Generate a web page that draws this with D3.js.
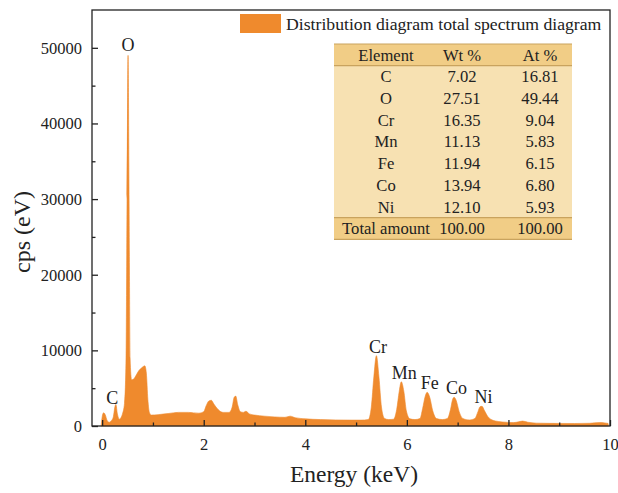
<!DOCTYPE html>
<html>
<head>
<meta charset="utf-8">
<script src="https://cdn.jsdelivr.net/npm/d3@7/dist/d3.min.js"></script>
<style>
  html, body { margin: 0; padding: 0; background: #fff; }
  text { font-family: "Liberation Serif", "Times New Roman", serif; fill: #222; }
</style>
</head>
<body>
<svg id="chart" width="618" height="493"></svg>
<script>
// ---- Data ----
const energy = [-0.02, 0.00, 0.03, 0.06, 0.10, 0.14, 0.18, 0.22, 0.25, 0.27, 0.30, 0.34, 0.37, 0.40, 0.44, 0.47, 0.49, 0.51, 0.53, 0.55, 0.58,
  0.62, 0.66, 0.72, 0.78, 0.84, 0.87, 0.90, 0.93, 0.97, 1.10, 1.30, 1.50, 1.70, 1.90, 2.00, 2.05, 2.10, 2.15, 2.20, 2.28, 2.38, 2.50,
  2.56, 2.60, 2.63, 2.67, 2.72, 2.78, 2.83, 2.90, 3.00, 3.20, 3.40, 3.60, 3.70, 3.80, 4.00, 4.30, 4.60, 4.90, 5.10, 5.24, 5.30, 5.35,
  5.40, 5.45, 5.50, 5.56, 5.64, 5.74, 5.80, 5.85, 5.89, 5.94, 5.99, 6.06, 6.16, 6.26, 6.31, 6.36, 6.40, 6.45, 6.51, 6.58, 6.70, 6.80,
  6.86, 6.90, 6.93, 6.97, 7.03, 7.10, 7.23, 7.34, 7.40, 7.44, 7.48, 7.53, 7.60, 7.68, 7.80, 7.95, 8.10, 8.20, 8.28, 8.38, 8.55, 8.80,
  9.00, 9.30, 9.60, 9.80, 9.90, 9.96, 9.97];
const cps = [0, 1200, 1750, 1500, 700, 500, 700, 1200, 2500, 2850, 1600, 900, 1100, 1600, 3000, 9000, 30000, 49000, 30000, 9000, 6100,
  6200, 6600, 7300, 7700, 7950, 7000, 3500, 1800, 1450, 1500, 1650, 1800, 1800, 1700, 1900, 2700, 3300, 3400, 2900, 2200, 1800, 1800,
  2500, 3800, 3950, 2800, 1900, 1800, 1950, 1600, 1450, 1300, 1200, 1150, 1300, 1100, 950, 850, 800, 780, 780, 850, 2500, 6500,
  9300, 6500, 2500, 1000, 850, 900, 2200, 4600, 5850, 4600, 2000, 950, 850, 1000, 2300, 3900, 4450, 3800, 2000, 1000, 850, 1000,
  2200, 3500, 3800, 3400, 1900, 1000, 800, 1000, 1900, 2550, 2600, 2000, 1200, 800, 600, 500, 450, 550, 650, 500, 380, 350,
  340, 330, 360, 450, 400, 350, 0];

const peakLabels = ["C", "O", "Cr", "Mn", "Fe", "Co", "Ni"];
const peakEnergy = [0.20, 0.51, 5.43, 5.95, 6.45, 6.98, 7.51];
const peakCps = [2850, 49000, 9300, 5850, 4450, 3800, 2600];

const tableHeader = ["Element", "Wt %", "At %"];
const tableElements = ["C", "O", "Cr", "Mn", "Fe", "Co", "Ni", "Total amount"];
const tableWt = ["7.02", "27.51", "16.35", "11.13", "11.94", "13.94", "12.10", "100.00"];
const tableAt = ["16.81", "49.44", "9.04", "5.83", "6.15", "6.80", "5.93", "100.00"];

const xTicks = [0, 2, 4, 6, 8, 10];
const xMinor = [1, 3, 5, 7, 9];
const yTicks = [0, 10000, 20000, 30000, 40000, 50000];
const yMinor = [5000, 15000, 25000, 35000, 45000];

const legendLabel = "Distribution diagram total spectrum diagram";
const xTitle = "Energy (keV)";
const yTitle = "cps (eV)";

// ---- Layout ----
const svg = d3.select("#chart");
const L = 92, R = 610, T = 10, B = 426;
const orange = "#EF8A2D";

const x = d3.scaleLinear().domain([-0.2, 10]).range([L, R]);
const y = d3.scaleLinear().domain([0, 55000]).range([B, T]);

const pts = energy.map((e, i) => [e, cps[i]]);

// spectrum area
const area = d3.area().x(d => x(d[0])).y0(y(0)).y1(d => y(d[1])).curve(d3.curveMonotoneX);
svg.append("path").datum(pts).attr("d", area).attr("fill", orange).attr("stroke", orange).attr("stroke-width", 0.6);

// frame
svg.append("rect").attr("x", L).attr("y", T).attr("width", R - L).attr("height", B - T)
  .attr("fill", "none").attr("stroke", "#222").attr("stroke-width", 1.3);

// x axis
const xAxis = d3.axisBottom(x).tickValues(xTicks).tickSizeInner(-6).tickSizeOuter(0).tickPadding(12).tickFormat(d3.format("d"));
const gx = svg.append("g").attr("transform", `translate(0,${B})`).call(xAxis);
gx.select(".domain").remove();
gx.selectAll("line").attr("stroke", "#222").attr("stroke-width", 1.3);
gx.selectAll("text").attr("font-size", 16.5).attr("fill", "#222").attr("font-family", "Liberation Serif");
const xAxisMinor = d3.axisBottom(x).tickValues(xMinor).tickSizeInner(-3.5).tickSizeOuter(0).tickFormat("");
const gxm = svg.append("g").attr("transform", `translate(0,${B})`).call(xAxisMinor);
gxm.select(".domain").remove();
gxm.selectAll("line").attr("stroke", "#222").attr("stroke-width", 1.3);

// y axis
const yAxis = d3.axisLeft(y).tickValues(yTicks).tickSizeInner(-6).tickSizeOuter(0).tickPadding(10).tickFormat(d3.format("d"));
const gy = svg.append("g").attr("transform", `translate(${L},0)`).call(yAxis);
gy.select(".domain").remove();
gy.selectAll("line").attr("stroke", "#222").attr("stroke-width", 1.3);
gy.selectAll("text").attr("font-size", 16.5).attr("fill", "#222").attr("font-family", "Liberation Serif");
const yAxisMinor = d3.axisLeft(y).tickValues(yMinor).tickSizeInner(-3.5).tickSizeOuter(0).tickFormat("");
const gym = svg.append("g").attr("transform", `translate(${L},0)`).call(yAxisMinor);
gym.select(".domain").remove();
gym.selectAll("line").attr("stroke", "#222").attr("stroke-width", 1.3);

// axis titles
svg.append("text").attr("x", (L + R) / 2 + 3).attr("y", 482).attr("text-anchor", "middle")
  .attr("font-size", 23.5).text(xTitle);
svg.append("text").attr("transform", `translate(30,${(T + B) / 2 + 14}) rotate(-90)`).attr("text-anchor", "middle")
  .attr("font-size", 24).text(yTitle);

// peak labels
const labelOffsets = [[0, 0], [0, -4], [0, -3], [0, -3], [0, -3], [0, -3], [0, -3]];
svg.selectAll("text.peak").data(peakLabels).enter().append("text")
  .attr("class", "peak")
  .attr("x", (d, i) => x(peakEnergy[i]) + labelOffsets[i][0])
  .attr("y", (d, i) => y(peakCps[i]) + labelOffsets[i][1])
  .attr("text-anchor", "middle").attr("font-size", 18).text(d => d);

// legend
svg.append("rect").attr("x", 240).attr("y", 14).attr("width", 41).attr("height", 19).attr("fill", orange);
svg.append("text").attr("x", 286).attr("y", 30).attr("font-size", 17.7).text(legendLabel);

// table
const tX = 334, tW = 238, tY = 44, rowH = 21.7;
const nRows = tableElements.length + 1;
const colCenters = [tX + 52, tX + 128, tX + 206];
const tg = svg.append("g");
tg.append("rect").attr("x", tX).attr("y", tY).attr("width", tW).attr("height", rowH * nRows).attr("fill", "#F7E1B2");
tg.append("rect").attr("x", tX).attr("y", tY).attr("width", tW).attr("height", rowH).attr("fill", "#F1CD86");
tg.append("rect").attr("x", tX).attr("y", tY + rowH * (nRows - 1)).attr("width", tW).attr("height", rowH).attr("fill", "#F1CD86");
[tY, tY + rowH, tY + rowH * (nRows - 1), tY + rowH * nRows].forEach(yy => {
  tg.append("line").attr("x1", tX).attr("x2", tX + tW).attr("y1", yy).attr("y2", yy)
    .attr("stroke", "#C9A35E").attr("stroke-width", 1.2);
});
const rows = [tableHeader].concat(tableElements.map((e, i) => [e, tableWt[i], tableAt[i]]));
rows.forEach((r, ri) => {
  r.forEach((c, ci) => {
    tg.append("text").attr("x", colCenters[ci]).attr("y", tY + rowH * ri + rowH / 2 + 5.8)
      .attr("text-anchor", "middle").attr("font-size", 16.6).text(c);
  });
});
</script>
</body>
</html>
